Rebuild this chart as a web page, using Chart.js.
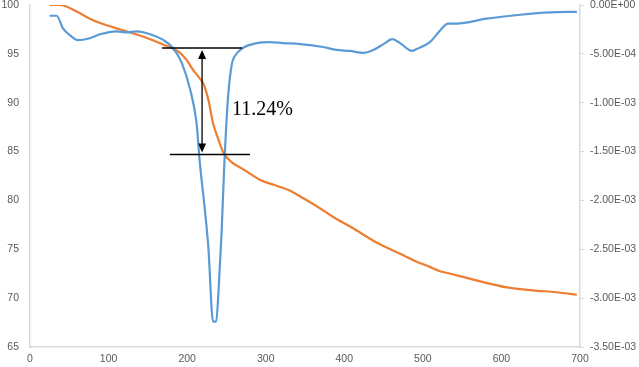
<!DOCTYPE html>
<html>
<head>
<meta charset="utf-8">
<script src="https://cdn.jsdelivr.net/npm/chart.js@4"></script>
<style>
  html, body { margin: 0; padding: 0; background: #fff; }
  #tga { display: block; }
</style>
</head>
<body>
<canvas id="tga" width="639" height="367"></canvas>
<script>
// TG curve (orange, left axis, %)
const tgTemp = [25, 38, 60, 76, 95, 115, 135, 153, 165, 180, 191, 200, 208, 215, 221, 227, 233, 240, 246, 257, 271, 293, 310, 331, 344, 369, 386, 410, 441, 475, 490, 509, 520, 535, 564, 607, 640, 670, 696];
const tgMass = [100, 100, 99.3, 98.6, 98.0, 97.5, 97.0, 96.5, 96.1, 95.6, 95.1, 94.3, 93.3, 92.6, 91.9, 90.3, 87.9, 86.2, 84.9, 83.9, 83.2, 82.1, 81.6, 81.0, 80.4, 79.2, 78.3, 77.2, 75.7, 74.4, 73.8, 73.2, 72.8, 72.5, 71.9, 71.1, 70.8, 70.6, 70.35];

// DTG curve (blue, right axis)
const dtgTemp = [25, 34, 42, 51, 61, 76, 89, 110, 123, 136, 153, 170, 182, 193, 204, 212, 216, 223, 227, 233, 237, 240, 244, 247, 252, 257, 261, 271, 289, 305, 322, 344, 373, 390, 407, 424, 437, 450, 461, 471, 486, 492, 509, 522, 532, 543, 581, 624, 662, 696];
const dtgRate = [-1.1e-4, -1.1e-4, -2.4e-4, -3.1e-4, -3.6e-4, -3.4e-4, -3.0e-4, -2.7e-4, -2.8e-4, -2.7e-4, -3.0e-4, -3.6e-4, -4.4e-4, -5.9e-4, -8.7e-4, -1.21e-3, -1.6e-3, -2.13e-3, -2.48e-3, -3.24e-3, -3.24e-3, -2.92e-3, -2.3e-3, -1.69e-3, -9.5e-4, -6.0e-4, -5.2e-4, -4.4e-4, -3.9e-4, -3.8e-4, -3.9e-4, -4.0e-4, -4.3e-4, -4.6e-4, -4.7e-4, -4.9e-4, -4.6e-4, -4.0e-4, -3.5e-4, -3.9e-4, -4.7e-4, -4.5e-4, -3.8e-4, -2.6e-4, -1.9e-4, -1.9e-4, -1.4e-4, -1.0e-4, -7.5e-5, -7e-5];

// mass-loss marker (left axis units)
const upperLevel = 95.6;
const lowerLevel = 84.7;
const upperSpan = [168, 270];
const lowerSpan = [178, 280];
const arrowTemp = 219;
const lossLabel = '11.24%';
const labelAt = [257, 89.3];

const leftTicks = [65, 100, 5];
const rightTicks = [-0.0035, 0, 0.0005];
const xTicks = [0, 700, 100];

function pts(xs, ys) {
    return xs.map((x, i) => ({x: x, y: ys[i]}));
}

function sci(v) {
    if (Math.abs(v) < 1e-12) return '0.00E+00';
    const parts = v.toExponential(2).split('e');
    const n = parseInt(parts[1], 10);
    return parts[0] + 'E' + (n < 0 ? '-' : '+') + String(Math.abs(n)).padStart(2, '0');
}

const tickFont = {family: 'Liberation Sans', size: 10.5};
const tickColor = '#595959';
const axisColor = '#d9d9d9';

const markerPlugin = {
    id: 'marker',
    afterDatasetsDraw(chart) {
        const ctx = chart.ctx;
        const xs = chart.scales.x;
        const ys = chart.scales.y;
        const ax = xs.getPixelForValue(arrowTemp);
        const top = ys.getPixelForValue(upperLevel) + 2;
        const bot = ys.getPixelForValue(lowerLevel) - 2;
        ctx.save();
        ctx.fillStyle = '#000';
        ctx.beginPath();
        ctx.moveTo(ax, top);
        ctx.lineTo(ax - 4, top + 9);
        ctx.lineTo(ax + 4, top + 9);
        ctx.closePath();
        ctx.fill();
        ctx.beginPath();
        ctx.moveTo(ax, bot);
        ctx.lineTo(ax - 4, bot - 9);
        ctx.lineTo(ax + 4, bot - 9);
        ctx.closePath();
        ctx.fill();

        ctx.font = '20px "Liberation Serif"';
        ctx.textAlign = 'left';
        ctx.textBaseline = 'middle';
        ctx.fillText(lossLabel, xs.getPixelForValue(labelAt[0]), ys.getPixelForValue(labelAt[1]));
        ctx.restore();
    }
};

const blackLine = {
    borderColor: '#000',
    borderWidth: 1.3,
    pointRadius: 0,
    yAxisID: 'y',
    tension: 0
};

new Chart(document.getElementById('tga'), {
    type: 'line',
    data: {
        datasets: [
            Object.assign({data: pts(upperSpan, [upperLevel, upperLevel])}, blackLine),
            Object.assign({data: pts(lowerSpan, [lowerLevel, lowerLevel])}, blackLine),
            Object.assign({data: pts([arrowTemp, arrowTemp], [upperLevel - 0.8, lowerLevel + 0.8])}, blackLine),
            {
                label: 'DTG',
                data: pts(dtgTemp, dtgRate),
                borderColor: '#5B9BD5',
                borderWidth: 2.2,
                pointRadius: 0,
                cubicInterpolationMode: 'monotone',
                yAxisID: 'y1'
            },
            {
                label: 'TG',
                data: pts(tgTemp, tgMass),
                borderColor: '#ED7D31',
                borderWidth: 2.2,
                pointRadius: 0,
                cubicInterpolationMode: 'monotone',
                yAxisID: 'y'
            }
        ]
    },
    options: {
        responsive: false,
        animation: false,
        layout: {padding: {top: 5, left: 0, right: 0, bottom: 0}},
        plugins: {
            legend: {display: false},
            tooltip: {enabled: false}
        },
        scales: {
            x: {
                type: 'linear',
                min: xTicks[0],
                max: xTicks[1],
                afterFit: (s) => { s.height = 20; s.paddingLeft = 0; s.paddingRight = 0; },
                ticks: {stepSize: xTicks[2], font: tickFont, color: tickColor, padding: 6, maxRotation: 0},
                grid: {display: false, drawTicks: false},
                border: {display: true, color: axisColor, width: 1.5}
            },
            y: {
                position: 'left',
                min: leftTicks[0],
                max: leftTicks[1],
                afterFit: (s) => { s.width = 30; s.paddingTop = 0; s.paddingBottom = 0; },
                ticks: {stepSize: leftTicks[2], font: tickFont, color: tickColor, padding: 11},
                grid: {display: false, drawTicks: false},
                border: {display: true, color: axisColor, width: 1.5}
            },
            y1: {
                position: 'right',
                min: rightTicks[0],
                max: rightTicks[1],
                afterFit: (s) => { s.width = 59; s.paddingTop = 0; s.paddingBottom = 0; },
                ticks: {stepSize: rightTicks[2], font: tickFont, color: tickColor, padding: 6, callback: (v) => sci(v)},
                grid: {display: true, drawOnChartArea: false, drawTicks: true, tickLength: 4, color: axisColor},
                border: {display: true, color: axisColor, width: 1.5}
            }
        }
    },
    plugins: [markerPlugin]
});
</script>
</body>
</html>
